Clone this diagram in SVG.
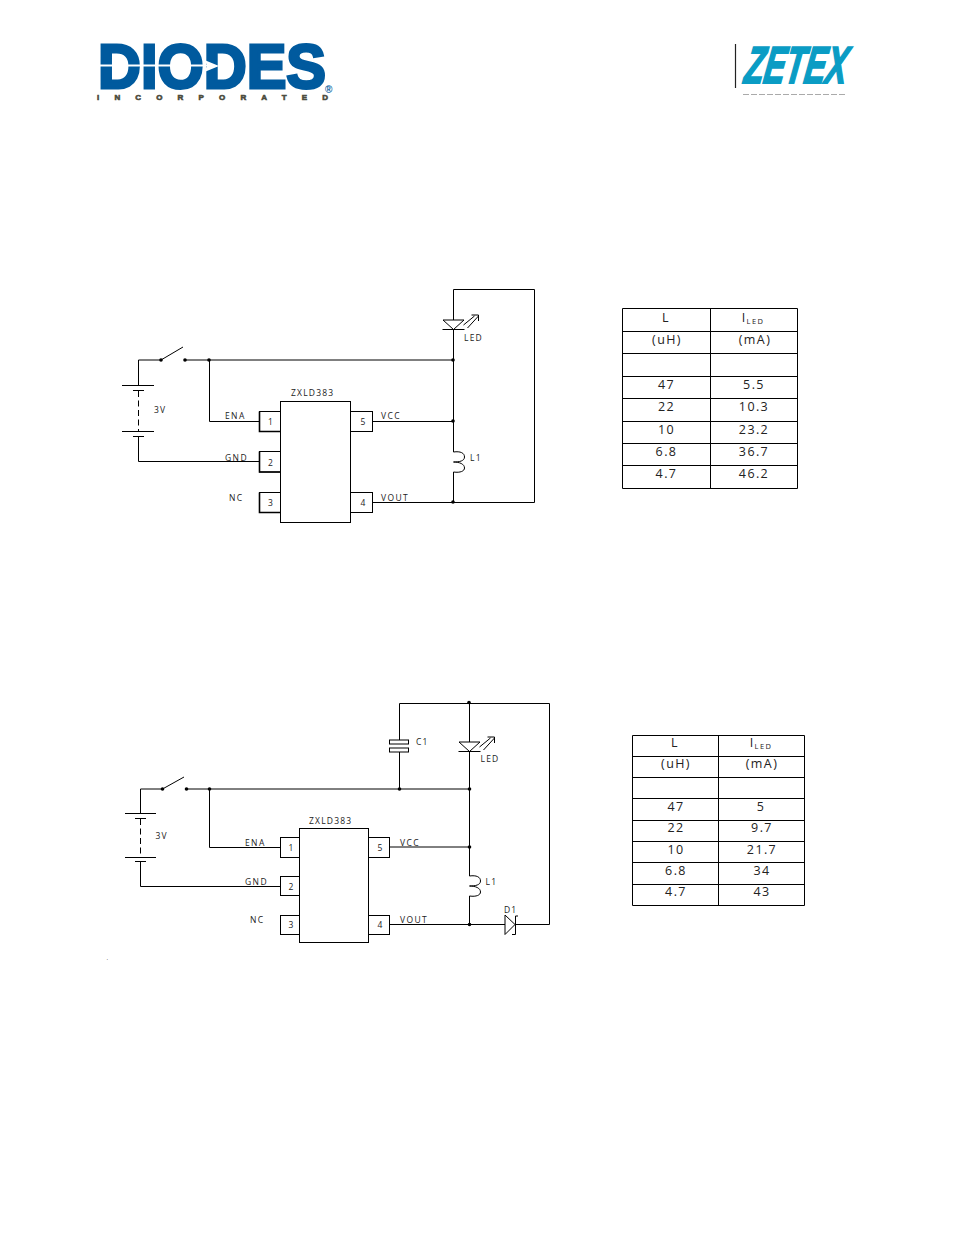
<svg xmlns="http://www.w3.org/2000/svg" width="954" height="1235" viewBox="0 0 954 1235">
<style>
text{font-family:"Open Sans","Noto Sans","Liberation Sans",sans-serif;fill:#222}
.w{fill:none;stroke:#000;stroke-width:1}
.box{fill:#fff;stroke:#000;stroke-width:1}
.t{stroke:#000;stroke-width:1;fill:none}
.lb{font-size:8.5px;letter-spacing:1.4px}
.pn{font-size:8.5px;text-anchor:middle}
.c{font-size:12.5px;letter-spacing:1.4px;text-anchor:middle}
.s{font-size:8.5px;letter-spacing:1.2px}
.dot{fill:#000;stroke:none}
.dash{stroke-dasharray:6 3.500}
.hv{fill:none;stroke:#000;stroke-width:1.600}
</style>
<defs>
<g id="led"><path class="box" d="M-10.500 0H10.500L0 9.500Z"/><path class="w" d="M-11 9.500H11M10 5L21 -4M14 8L25 -4M18 -5H25V1"/></g>
<path id="coil" class="w" d="M0 0C7 -1 11 1 11 5C11 9 6 10 0 10C6 10 11 12 11 16C11 19 7 21 0 20"/>
</defs>
<g id="logo-diodes">
<text x="98" y="88" font-size="63" textLength="228" lengthAdjust="spacingAndGlyphs" style="font-family:'Liberation Sans',sans-serif;font-weight:700;fill:#005a9e;stroke:#005a9e;stroke-width:3">DIODES</text>
<path d="M97 64.500H207L202 59L219 66L202 73L207 66.500H97Z" fill="#fff"/>
<text x="97" y="100" font-size="8" textLength="231" style="font-family:'Liberation Sans',sans-serif;font-weight:700;fill:#4a4a3c;stroke:#4a4a3c;stroke-width:.6">INCORPORATED</text>
<text x="325" y="93" font-size="10" style="font-family:'Liberation Sans',sans-serif;font-weight:700;fill:#005a9e">®</text>
</g>
<g id="logo-zetex">
<path d="M735.500 44V88" stroke="#222" stroke-width="1.200"/>
<text transform="translate(743,83) skewX(-9)" font-size="52" textLength="102" lengthAdjust="spacingAndGlyphs" style="font-family:'Liberation Sans',sans-serif;font-weight:700;font-style:italic;fill:#0a9cc4;stroke:#0a9cc4;stroke-width:2">ZETEX</text>
<path d="M743 94.500H846" stroke="#aaa" stroke-width="1" stroke-dasharray="6 2"/>
</g>

<g id="connectors-1">
<path class="w" d="M161 360H138.500V385.500M185 360H453M138.500 436.500V461.500H259M209.500 360V421.500H259M453.500 329V452M453.500 472V502.500M372.500 421.500H453.500M372.500 502.500H534.500V289.500H453.500V320"/>
<path class="w dash" d="M138.500 391V431"/>
<path class="w" d="M122 385.500H154M133 390.500H144M122 431.500H154M133 436.500H144M161 360L183 347"/>
<circle class="dot" cx="161" cy="360" r="1.800"/><circle class="dot" cx="185" cy="360" r="1.800"/><circle class="dot" cx="209" cy="360" r="1.800"/><circle class="dot" cx="453" cy="360" r="1.800"/><circle class="dot" cx="453" cy="421" r="1.800"/><circle class="dot" cx="453" cy="502" r="1.800"/>
</g>
<g id="battery-1"><text class="s" x="154" y="413">3V</text></g>
<g id="led-1"><use href="#led" x="453.500" y="320"/><text class="s" x="464" y="341">LED</text></g>
<g id="l1-1"><use href="#coil" x="453.500" y="452"/><text class="s" x="470" y="461">L1</text></g>
<g id="ic-1">
<rect class="box" x="280.500" y="401.500" width="70" height="121"/>
<text class="lb" x="291" y="396" style="letter-spacing:1.200px">ZXLD383</text>
<rect class="box" x="259.500" y="411.500" width="21" height="20"/><path class="hv" d="M259.500 411.500V431.500H280"/><text class="pn" x="270.500" y="425">1</text>
<rect class="box" x="259.500" y="451.500" width="21" height="20.500"/><path class="hv" d="M259.500 451.500V472H280"/><text class="pn" x="270.500" y="466">2</text>
<rect class="box" x="259.500" y="492.500" width="21" height="20"/><path class="hv" d="M259.500 492.500V512.500H280"/><text class="pn" x="270.500" y="506">3</text>
<rect class="box" x="350.500" y="411.500" width="22" height="20"/><text class="pn" x="363" y="425">5</text>
<rect class="box" x="350.500" y="492.500" width="22" height="20"/><text class="pn" x="363" y="506">4</text>
<text class="lb" x="225" y="419">ENA</text><text class="lb" x="225" y="461">GND</text><text class="lb" x="229" y="501">NC</text><text class="lb" x="381" y="419">VCC</text><text class="lb" x="381" y="501">VOUT</text>
</g>
<g id="table-1">
<path class="t" d="M622.500 308.500H797.500V488.500H622.500ZM710.500 308.500V488.500M622.500 331.500H797.500M622.500 353.500H797.500M622.500 376.500H797.500M622.500 398.500H797.500M622.500 421.500H797.500M622.500 443.500H797.500M622.500 465.500H797.500"/>
<text class="c" x="666" y="322">L</text><text class="c" x="753" y="322">I<tspan font-size="7.500" dy="1.500">LED</tspan></text>
<text class="c" x="667" y="344">(uH)</text><text class="c" x="755" y="344">(mA)</text>
<text class="c" x="666.500" y="389">47</text><text class="c" x="754" y="389">5.5</text>
<text class="c" x="666.500" y="411">22</text><text class="c" x="754" y="411">10.3</text>
<text class="c" x="666.500" y="434">10</text><text class="c" x="754" y="434">23.2</text>
<text class="c" x="666.500" y="456">6.8</text><text class="c" x="754" y="456">36.7</text>
<text class="c" x="666.500" y="478">4.7</text><text class="c" x="754" y="478">46.2</text>
</g>

<g id="connectors-2">
<path class="w" d="M162.500 789H140.500V813.500M140.500 861.500V886.500H280.500M186.500 789H469.500M209.500 789V847.500H280.500M399.500 740V703.500H549.500V924.500H515M399.500 752V789M469.500 702V742M469.500 751V876M469.500 896V924.500M389.500 847H469.500M389.500 924.500H505"/>
<path class="w dash" d="M140.500 819V857.500"/>
<path class="w" d="M125 813.500H156M135 818.500H146M125 857.500H156M135 861.500H146M162.500 789L184 777"/>
<circle class="dot" cx="162.500" cy="789" r="1.800"/><circle class="dot" cx="186.500" cy="789" r="1.800"/><circle class="dot" cx="209.500" cy="789" r="1.800"/><circle class="dot" cx="399.500" cy="789" r="1.800"/><circle class="dot" cx="469.500" cy="789" r="1.800"/><circle class="dot" cx="469" cy="702.500" r="1.800"/><circle class="dot" cx="469.500" cy="847" r="1.800"/><circle class="dot" cx="469.500" cy="924.500" r="1.800"/>
</g>
<g id="battery-2"><text class="s" x="155.500" y="839">3V</text></g>
<g id="c1"><rect class="box" x="389.500" y="740" width="19" height="4"/><rect class="box" x="389.500" y="748" width="19" height="4"/><text class="s" x="416" y="745">C1</text></g>
<g id="led-2"><use href="#led" x="469.500" y="742"/><text class="s" x="480.500" y="762">LED</text></g>
<g id="l1-2"><use href="#coil" x="469.500" y="876"/><text class="s" x="485.500" y="885">L1</text></g>
<g id="d1"><path class="box" d="M505 915V934.500L515 924.500Z"/><path class="w" d="M518 916H515.500V934.500H512"/><text class="s" x="504" y="913">D1</text></g>
<g id="ic-2">
<rect class="box" x="299.500" y="828.500" width="69" height="114"/>
<text class="lb" x="309" y="824" style="letter-spacing:1.200px">ZXLD383</text>
<rect class="box" x="280.500" y="837.500" width="19" height="20"/><text class="pn" x="291" y="851">1</text>
<rect class="box" x="280.500" y="876.500" width="19" height="19"/><text class="pn" x="291" y="890">2</text>
<rect class="box" x="280.500" y="915.500" width="19" height="19"/><text class="pn" x="291" y="928">3</text>
<rect class="box" x="368.500" y="837.500" width="21" height="20"/><text class="pn" x="380" y="851">5</text>
<rect class="box" x="368.500" y="915.500" width="21" height="19"/><text class="pn" x="380" y="928">4</text>
<text class="lb" x="245" y="846">ENA</text><text class="lb" x="245" y="885">GND</text><text class="lb" x="250" y="923">NC</text><text class="lb" x="400" y="846">VCC</text><text class="lb" x="400" y="923">VOUT</text>
</g>
<g id="table-2">
<path class="t" d="M632.500 735.500H804.500V905.500H632.500ZM718.500 735.500V905.500M632.500 756.500H804.500M632.500 777.500H804.500M632.500 798.500H804.500M632.500 820.500H804.500M632.500 841.500H804.500M632.500 862.500H804.500M632.500 884.500H804.500"/>
<text class="c" x="675" y="747">L</text><text class="c" x="761" y="747">I<tspan font-size="7.500" dy="1.500">LED</tspan></text>
<text class="c" x="676" y="768">(uH)</text><text class="c" x="762" y="768">(mA)</text>
<text class="c" x="676" y="811">47</text><text class="c" x="761" y="811">5</text>
<text class="c" x="676" y="832">22</text><text class="c" x="762" y="832">9.7</text>
<text class="c" x="676" y="854">10</text><text class="c" x="762" y="854">21.7</text>
<text class="c" x="676" y="875">6.8</text><text class="c" x="762" y="875">34</text>
<text class="c" x="676" y="896">4.7</text><text class="c" x="762" y="896">43</text>
</g>
<text x="106.500" y="960" font-size="6">.</text>
</svg>
